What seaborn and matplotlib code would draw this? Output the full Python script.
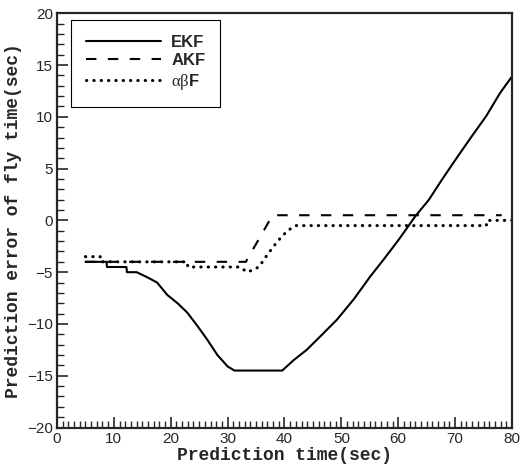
import numpy as np
import pandas as pd
import matplotlib
matplotlib.use("Agg")
import matplotlib.pyplot as plt
import seaborn as sns
from matplotlib.ticker import MultipleLocator

# data
ekf_t = [5, 8.7, 8.8, 12.2, 12.3, 14, 15.9, 17.6, 19.4, 21.2, 22.9, 24.7, 26.4, 28.2,
         30, 31.2, 39.6, 41.6, 43.9, 46.3, 49.2, 52.2, 55.1, 57.4, 60.1, 63, 65.4,
         67.7, 70.3, 72.9, 75.5, 77.9, 80]
ekf_err = [-4, -4, -4.5, -4.5, -5, -5, -5.5, -6, -7.2, -8, -8.9, -10.2, -11.5, -13,
           -14.1, -14.5, -14.5, -13.5, -12.5, -11.2, -9.6, -7.6, -5.4, -3.8, -1.85, 0.4,
           2.0, 3.95, 6.05, 8.1, 10.1, 12.3, 13.9]

akf_t = [5, 33.2, 37.9, 78.2]
akf_err = [-4, -4, 0.5, 0.5]

ab_t = [5, 7.6, 7.7, 22.9, 23, 32.1, 33.5, 35.5, 37, 38.8, 40.5, 42, 75.5, 75.6, 80]
ab_err = [-3.5, -3.5, -4, -4, -4.5, -4.5, -5, -4.5, -3.3, -2.0, -1.0, -0.5, -0.5, 0, 0]

sns.set_style("ticks")
plt.rcParams['font.family'] = ['Liberation Sans', 'DejaVu Sans']
plt.rcParams['xtick.direction'] = 'in'
plt.rcParams['ytick.direction'] = 'in'
plt.rcParams['mathtext.fontset'] = 'custom'
plt.rcParams['mathtext.rm'] = 'Liberation Serif'
plt.rcParams['mathtext.it'] = 'Liberation Serif'

fig = plt.figure(figsize=(5.21, 4.70), dpi=100)
ax = fig.add_axes([0.1094, 0.0904, 0.8733, 0.8813])

sns.lineplot(x=ekf_t, y=ekf_err, ax=ax, color='black', lw=1.5, label='EKF')
sns.lineplot(x=akf_t, y=akf_err, ax=ax, color='black', lw=1.5, label='AKF')
sns.lineplot(x=ab_t, y=ab_err, ax=ax, color='black', lw=2.2,
             label=r'$\mathrm{\alpha\beta}$F')
ax.lines[1].set_dashes([5, 5.5])
ax.lines[2].set_linestyle((0, (0.1, 2.3)))
ax.lines[2].set_dash_capstyle('round')

ax.set_xlim(0, 80)
ax.set_ylim(-20, 20)
ax.xaxis.set_major_locator(MultipleLocator(10))
ax.xaxis.set_minor_locator(MultipleLocator(1))
ax.yaxis.set_major_locator(MultipleLocator(5))
ax.yaxis.set_minor_locator(MultipleLocator(1))
ax.tick_params(which='major', length=8, width=1.2, labelsize=11, pad=3)
ax.tick_params(which='minor', length=5, width=1.0)
ax.tick_params(which='both', top=False, right=False)
for s in ax.spines.values():
    s.set_linewidth(1.6)

lab = dict(family=['Liberation Mono', 'DejaVu Sans Mono'], weight='bold', size=13)
ax.set_xlabel('Prediction time(sec)', labelpad=1, **lab)
ax.set_ylabel('Prediction error of fly time(sec)', **lab)
ax.yaxis.set_label_coords(-0.077, 0.5)

leg = ax.legend(loc='upper left', bbox_to_anchor=(0.031, 0.984), borderaxespad=0,
                handlelength=4.5, handletextpad=0.6, fancybox=False,
                edgecolor='black', framealpha=1,
                prop=dict(weight='bold', size=12),
                borderpad=0.9, labelspacing=0.2)
leg.get_frame().set_linewidth(0.8)
for h in leg.legend_handles:
    h.set_color('black')

fig.savefig('out.png', dpi=100)
